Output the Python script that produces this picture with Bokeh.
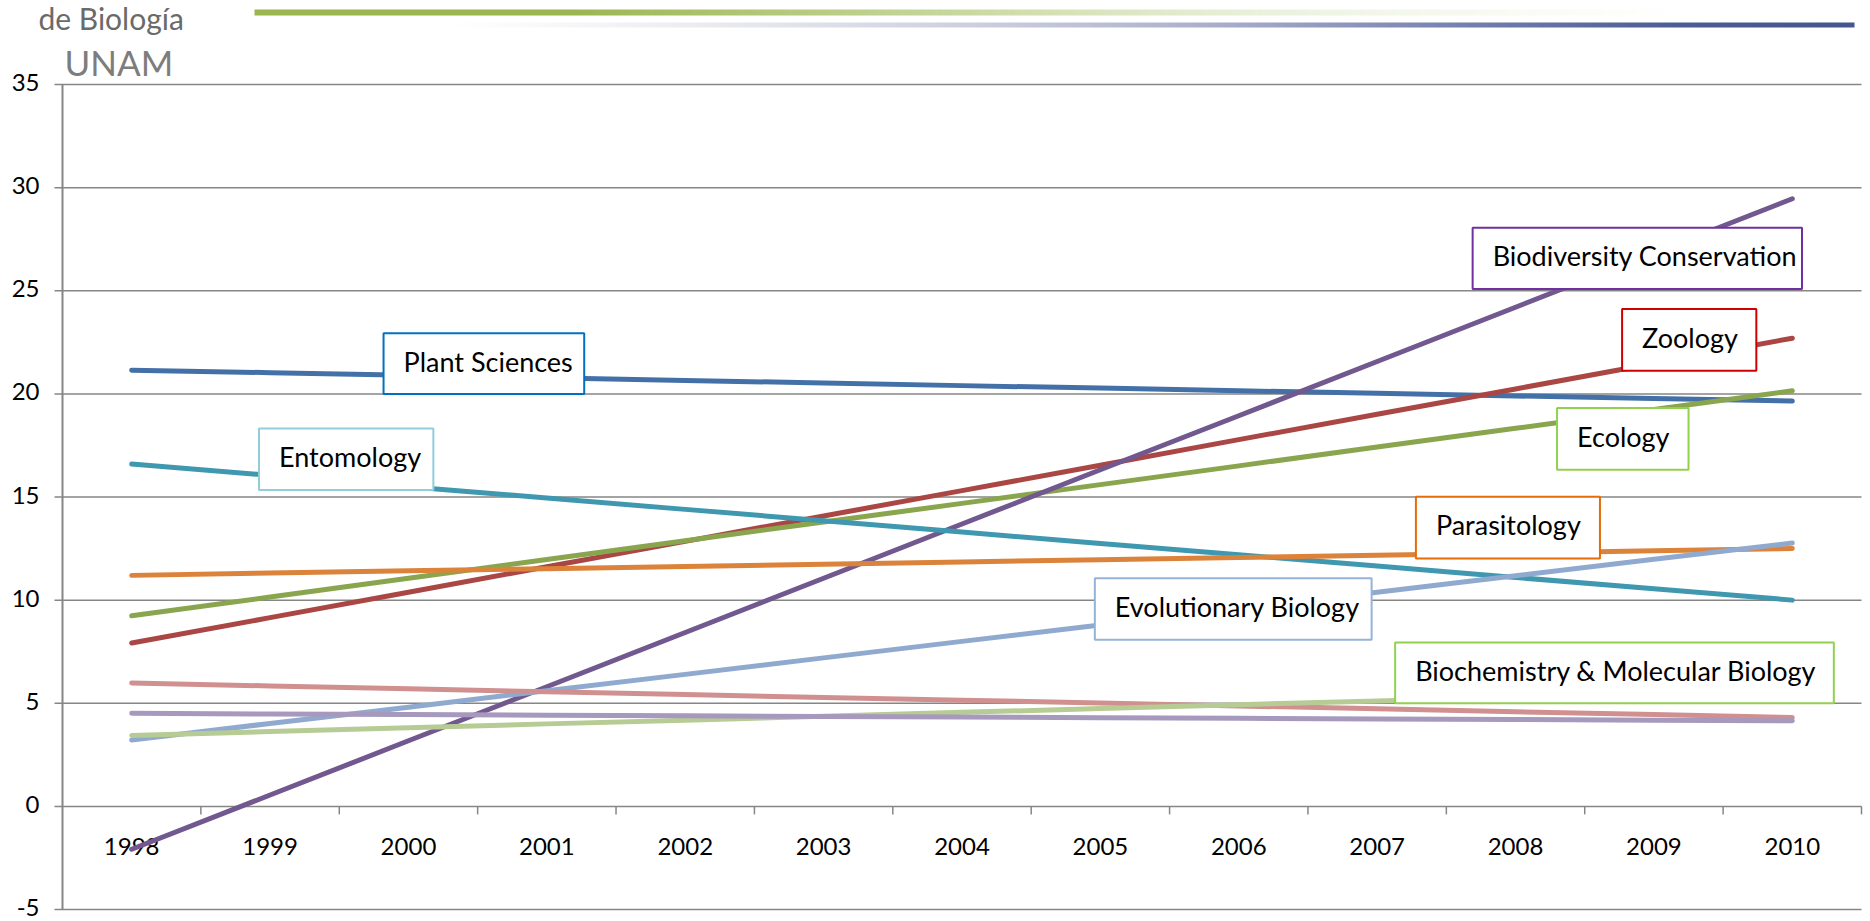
import numpy as np
from bokeh.plotting import figure
from bokeh.models import Range1d, Grid
from bokeh.embed import file_html
from bokeh.resources import INLINE
from bokeh.core.properties import value

# ---------------- data ----------------
years = [1998, 1999, 2000, 2001, 2002, 2003, 2004, 2005, 2006, 2007, 2008, 2009, 2010]
year_labels = ["1998", "1999", "2000", "2001", "2002", "2003", "2004",
               "2005", "2006", "2007", "2008", "2009", "2010"]
y_ticks = [-5, 0, 5, 10, 15, 20, 25, 30, 35]
y_tick_labels = ["-5", "0", "5", "10", "15", "20", "25", "30", "35"]

plant_sciences = [21.15, 21.03, 20.90, 20.78, 20.65, 20.53, 20.40, 20.28, 20.15, 20.03, 19.90, 19.78, 19.65]
zoology = [7.92, 9.15, 10.38, 11.62, 12.85, 14.08, 15.31, 16.54, 17.78, 19.01, 20.24, 21.47, 22.70]
ecology = [9.24, 10.15, 11.06, 11.97, 12.88, 13.79, 14.69, 15.60, 16.51, 17.42, 18.33, 19.24, 20.15]
biodiversity_conservation = [-2.08, 0.55, 3.18, 5.80, 8.43, 11.06, 13.69, 16.32, 18.94, 21.57, 24.20, 26.83, 29.46]
entomology = [16.60, 16.05, 15.50, 14.95, 14.40, 13.85, 13.30, 12.75, 12.20, 11.65, 11.10, 10.55, 10.00]
parasitology = [11.20, 11.31, 11.42, 11.52, 11.63, 11.74, 11.85, 11.96, 12.07, 12.17, 12.28, 12.39, 12.50]
evolutionary_biology = [3.22, 4.02, 4.81, 5.61, 6.40, 7.20, 8.00, 8.79, 9.59, 10.38, 11.18, 11.98, 12.77]
series_pink = [5.98, 5.84, 5.70, 5.56, 5.42, 5.28, 5.15, 5.01, 4.87, 4.73, 4.59, 4.45, 4.31]
biochemistry_molecular = [3.44, 3.63, 3.81, 4.00, 4.18, 4.37, 4.56, 4.74, 4.93, 5.11, 5.30, 5.49, 5.67]
series_lilac = [4.51, 4.48, 4.45, 4.42, 4.39, 4.36, 4.33, 4.30, 4.27, 4.24, 4.21, 4.18, 4.15]

series = [
    (plant_sciences, "#4470A8"),
    (zoology, "#AA4643"),
    (ecology, "#89A54E"),
    (biodiversity_conservation, "#71588F"),
    (entomology, "#3F98AF"),
    (parasitology, "#DC833B"),
    (evolutionary_biology, "#90A9CF"),
    (series_pink, "#D19090"),
    (biochemistry_molecular, "#B6CC94"),
    (series_lilac, "#A699BD"),
]

# callout boxes: text, border colour, left, right (years), top, bottom (values)
callouts = [
    ("Plant Sciences", "#0070C0", 1999.82, 2001.27, 22.94, 19.99),
    ("Entomology", "#92CDDC", 1998.92, 2000.18, 18.32, 15.34),
    ("Zoology", "#D00000", 2008.77, 2009.74, 24.11, 21.12),
    ("Biodiversity Conservation", "#7030A0", 2007.69, 2010.07, 28.05, 25.08),
    ("Ecology", "#92D050", 2008.30, 2009.25, 19.31, 16.32),
    ("Parasitology", "#E46C0A", 2007.28, 2008.61, 15.01, 12.02),
    ("Evolutionary Biology", "#95B3D7", 2004.96, 2006.96, 11.06, 8.08),
    ("Biochemistry & Molecular Biology", "#92D050", 2007.13, 2010.30, 7.95, 5.00),
]

FONT = "Lato"
GRID = "#868686"

# ---------------- geometry (page pixels) ----------------
W, H = 1870, 921
PLOT_L, PLOT_R, PLOT_T, PLOT_B = 62, 1861, 84, 909
X0, X1 = years[0] - 0.5, years[-1] + 0.5
Y0, Y1 = y_ticks[0], y_ticks[-1]
XPX = (PLOT_R - PLOT_L) / (X1 - X0)
YPX = (PLOT_B - PLOT_T) / (Y1 - Y0)


def px_x(px):
    return X0 + (px - PLOT_L) / XPX


def px_y(py):
    return Y1 - (py - PLOT_T) / YPX


p = figure(width=W, height=H, output_backend="svg", toolbar_location=None,
           x_range=Range1d(px_x(0), px_x(W)), y_range=Range1d(px_y(H), px_y(0)),
           x_axis_location=None, y_axis_location=None, min_border=0,
           min_border_left=0, min_border_right=0, min_border_top=0, min_border_bottom=0)
p.outline_line_color = None
p.background_fill_color = "white"
p.border_fill_color = "white"
p.center = [r for r in p.center if not isinstance(r, Grid)]

# horizontal gridlines (with the short outer tick on the value axis)
p.segment(x0=[X0 - 8 / XPX] * len(y_ticks), y0=y_ticks, x1=[X1] * len(y_ticks), y1=y_ticks,
          line_color=GRID, line_width=1.5)
# value axis line and labels
p.segment(x0=[X0], y0=[Y0], x1=[X0], y1=[Y1], line_color=GRID, line_width=2)
p.text(x=[X0] * len(y_ticks), y=y_ticks, text=y_tick_labels, x_offset=-23, y_offset=-2,
       text_align="right", text_baseline="middle",
       text_font=value(FONT), text_font_size="24px", text_color="black")

# category axis crossing at 0: tick marks between years, labels under the centres
boundaries = [y + 0.5 for y in years]
p.segment(x0=boundaries, y0=[0] * len(boundaries), x1=boundaries, y1=[-8 / YPX] * len(boundaries),
          line_color=GRID, line_width=1.5)
p.text(x=years, y=[0] * len(years), text=year_labels, y_offset=40,
       text_align="center", text_baseline="middle",
       text_font=value(FONT), text_font_size="24px", text_color="black")

# ---------------- header (logo text + gradient bars) ----------------
def gradient(stops, n=400):
    t = np.linspace(0, 1, n)
    pos = [s[0] for s in stops]
    chans = []
    for c in range(4):
        chans.append(np.interp(t, pos, [s[1][c] for s in stops]).round().astype(np.uint8))
    rgba = np.stack(chans, axis=-1).reshape(1, n, 4)
    return rgba.view(np.uint32).reshape(1, n)


green_bar = gradient([(0.0, (154, 182, 79, 255)), (0.22, (154, 182, 79, 255)),
                      (0.48, (165, 190, 95, 160)), (0.72, (190, 208, 140, 70)),
                      (1.0, (220, 230, 190, 0))])
blue_bar = gradient([(0.0, (220, 222, 230, 0)), (0.30, (205, 208, 222, 200)),
                     (0.55, (169, 173, 203, 255)), (0.75, (108, 121, 170, 255)),
                     (0.88, (74, 92, 149, 255)), (1.0, (67, 86, 143, 255))])
p.image_rgba(image=[green_bar], x=px_x(254), y=px_y(15), dw=1440 / XPX, dh=6 / YPX)
p.image_rgba(image=[blue_bar], x=px_x(445), y=px_y(27), dw=1409 / XPX, dh=5 / YPX)

p.text(x=[px_x(38)], y=[px_y(17)], text=["de Biología"], text_align="left",
       text_baseline="alphabetic", text_font=value(FONT), text_font_size="30px",
       text_color="#6a6a6a")
p.text(x=[px_x(64)], y=[px_y(61)], text=["UNAM"], text_align="left",
       text_baseline="alphabetic", text_font=value(FONT), text_font_size="35px",
       text_color="#7d7d7d")

# ---------------- series ----------------
for vals, col in series:
    p.line(years, vals, line_color=col, line_width=5, line_cap="round", line_join="round")

# ---------------- callouts ----------------
for txt, col, l, r, t, b in callouts:
    p.quad(left=[l], right=[r], top=[t], bottom=[b], fill_color="white",
           line_color=col, line_width=2)
    p.text(x=[l], y=[t], text=[txt], x_offset=20, y_offset=28,
           text_align="left", text_baseline="alphabetic",
           text_font=value(FONT), text_font_size="27px", text_color="black")

open("out.html", "w").write(file_html(p, INLINE))
